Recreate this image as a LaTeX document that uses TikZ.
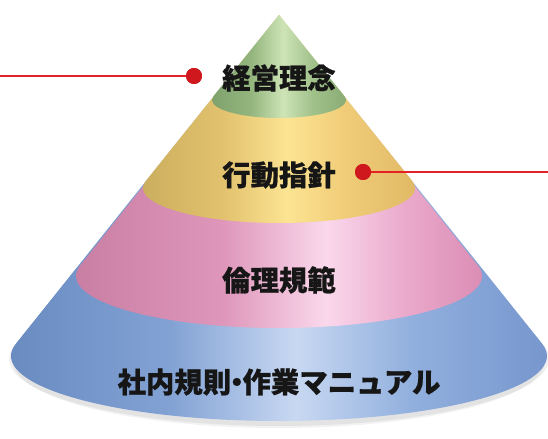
\documentclass[tikz,border=0pt]{standalone}
\usepackage{fontspec}
\newfontfamily\jp{Noto Sans CJK JP}[BoldFeatures={FakeBold=0.7}]
\usetikzlibrary{calc}
\definecolor{redline}{RGB}{226,34,36}
\definecolor{reddotc}{RGB}{206,24,30}
\definecolor{txt}{RGB}{22,22,22}
% blue
\definecolor{b1}{RGB}{102,136,190}
\definecolor{b2}{RGB}{130,162,212}
\definecolor{b3}{RGB}{200,216,242}
\definecolor{b4}{RGB}{146,176,222}
\definecolor{b5}{RGB}{116,148,204}
% pink
\definecolor{p1}{RGB}{198,124,160}
\definecolor{p2}{RGB}{222,150,186}
\definecolor{p3}{RGB}{250,216,236}
\definecolor{p4}{RGB}{234,170,204}
\definecolor{p5}{RGB}{218,138,178}
% yellow
\definecolor{y1}{RGB}{200,172,92}
\definecolor{y2}{RGB}{226,194,110}
\definecolor{y3}{RGB}{252,228,146}
\definecolor{y4}{RGB}{240,204,120}
\definecolor{y5}{RGB}{224,184,100}
% green
\definecolor{g1}{RGB}{124,158,106}
\definecolor{g2}{RGB}{148,182,126}
\definecolor{g3}{RGB}{206,228,182}
\definecolor{g4}{RGB}{162,194,140}
\definecolor{g5}{RGB}{136,170,114}
\pgfdeclarehorizontalshading{blueband}{100bp}{color(0bp)=(b1); color(25bp)=(b1); color(41bp)=(b2); color(52bp)=(b3); color(62bp)=(b4); color(75bp)=(b5); color(100bp)=(b5)}
\pgfdeclarehorizontalshading{pinkband}{100bp}{color(0bp)=(p1); color(25bp)=(p1); color(44bp)=(p2); color(56bp)=(p3); color(65bp)=(p4); color(75bp)=(p5); color(100bp)=(p5)}
\pgfdeclarehorizontalshading{yellowband}{100bp}{color(0bp)=(y1); color(25bp)=(y1); color(41bp)=(y2); color(52bp)=(y3); color(62bp)=(y4); color(75bp)=(y5); color(100bp)=(y5)}
\pgfdeclarehorizontalshading{greenband}{100bp}{color(0bp)=(g1); color(25bp)=(g1); color(41bp)=(g2); color(52bp)=(g3); color(62bp)=(g4); color(75bp)=(g5); color(100bp)=(g5)}
\newcommand\coneband[4]{%
  \pgfmathsetmacro\cbang{asin(#3/(424-#1))}%
  \shade[shading=#4] (apex) -- ($(279,#1)+(180-\cbang:#2 and #3)$)
    arc[start angle=180-\cbang, end angle=360+\cbang, x radius=#2, y radius=#3] -- cycle;}
\tikzset{
  lbl/.style={font=\jp\bfseries\fontsize{28.5}{32}\selectfont, text=txt, inner sep=0pt},
  reddot/.style={circle, fill=reddotc, minimum size=16bp, inner sep=0pt},
  redwire/.style={draw=redline, line width=1.5bp}
}
\begin{document}
\begin{tikzpicture}[x=1bp,y=1bp]
\useasboundingbox (0,0) rectangle (548,439);
\fill[white] (0,0) rectangle (548,439);
\coordinate (apex) at (279,424);
% soft shadow
\fill[black, opacity=0.06] (279,80) ellipse[x radius=270, y radius=67];
\fill[black, opacity=0.05] (279,78) ellipse[x radius=266, y radius=67];
% bands
\coneband{83}{268}{65}{blueband}
\coneband{163}{203}{52}{pinkband}
\coneband{251}{136}{35}{yellowband}
\coneband{339}{67}{18}{greenband}
% labels
\node[lbl] (t1) at (279,361) {経営理念};
\node[lbl] (t2) at (279,264) {行動指針};
\node[lbl] (t3) at (279,159) {倫理規範};
\node[lbl] (t4) at (279,57) {社内規則\hspace{-0.3em}・\hspace{-0.3em}作業マニュアル};
% red markers
\coordinate (lend) at (0,363);
\coordinate (rend) at (548,267);
\node[reddot] (dotL) at (194,363) {};
\node[reddot] (dotR) at (363,267) {};
\draw[redwire] (lend) -- (dotL.center);
\draw[redwire] (dotR.center) -- (rend);
\node[reddot] at (dotL) {};
\node[reddot] at (dotR) {};
\end{tikzpicture}
\end{document}
